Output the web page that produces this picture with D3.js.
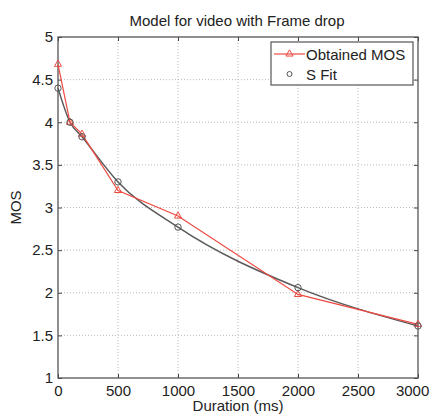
<!DOCTYPE html>
<html>
  <head>
    <title>Model for video with Frame drop</title>
    <style>
      body { margin: 0; background: #fff; }
      text { font-family: "Liberation Sans", Arial, sans-serif; fill: #222; }
      .grid line { stroke: #bbb; stroke-dasharray: 1,2; }
    </style>
  </head>
  <body>
    <div id="chart"></div>
    <script src="https://d3js.org/d3.v7.min.js" type="text/javascript"></script>
<script>

  var durations = [0, 100, 200, 500, 1000, 2000, 3000];
  var obtainedMOS = [4.68, 4.0, 3.86, 3.2, 2.9, 1.98, 1.63];
  var sFit = [4.4, 4.0, 3.83, 3.3, 2.77, 2.06, 1.61];
  var xTicks = [0, 500, 1000, 1500, 2000, 2500, 3000];
  var yTicks = [1, 1.5, 2, 2.5, 3, 3.5, 4, 4.5, 5];

  var margin = {top: 37, right: 12, bottom: 36, left: 58},
    width = 430 - margin.left - margin.right,
    height = 414 - margin.top - margin.bottom;

  var svg = d3.select('#chart')
    .append('svg')
    .attr("width", 430)
    .attr("height", 414);

  var g = svg.append("g")
    .attr("transform", "translate(" + margin.left + "," + margin.top + ")");

  var x = d3.scaleLinear().domain([0, 3000]).range([0, width]);
  var y = d3.scaleLinear().domain([1, 5]).range([height, 0]);

  // grid
  var grid = g.append("g").attr("class", "grid");
  grid.selectAll(".gx").data(xTicks.slice(1, -1)).enter().append("line")
    .attr("x1", function(d){return x(d);}).attr("x2", function(d){return x(d);})
    .attr("y1", 0).attr("y2", height);
  grid.selectAll(".gy").data(yTicks.slice(1, -1)).enter().append("line")
    .attr("y1", function(d){return y(d);}).attr("y2", function(d){return y(d);})
    .attr("x1", 0).attr("x2", width);

  // axes, matlab style with inward ticks
  function styleAxis(sel) {
    sel.select(".domain").remove();
    sel.selectAll(".tick line").attr("stroke", "#444");
    sel.selectAll(".tick text").style("font-size", "15px").attr("fill", "#222");
  }
  var xAxis = g.append("g")
    .attr("transform", "translate(0," + height + ")")
    .call(d3.axisBottom(x).tickValues(xTicks).tickSize(-4).tickPadding(7).tickFormat(d3.format("d")))
    .call(styleAxis);
  // last label sits on the window edge, keep it inside
  xAxis.selectAll(".tick text").filter(function(d){return d === 3000;})
    .attr("text-anchor", "end").attr("dx", "0.72em");
  g.append("g")
    .call(d3.axisLeft(y).tickValues(yTicks).tickSize(-4).tickPadding(5).tickFormat(d3.format("")))
    .call(styleAxis);
  g.append("g")
    .call(d3.axisTop(x).tickValues(xTicks).tickSize(-4).tickFormat(""))
    .call(styleAxis);
  g.append("g")
    .attr("transform", "translate(" + width + ",0)")
    .call(d3.axisRight(y).tickValues(yTicks).tickSize(-4).tickFormat(""))
    .call(styleAxis);

  g.append("rect")
    .attr("width", width).attr("height", height)
    .attr("fill", "none").attr("stroke", "#555").attr("stroke-width", 1.3);

  var lineObt = d3.line()
    .x(function(d, i){return x(durations[i]);})
    .y(function(d){return y(d);});
  var lineFit = d3.line()
    .x(function(d, i){return x(durations[i]);})
    .y(function(d){return y(d);})
    .curve(d3.curveMonotoneX);

  g.append("path").datum(sFit)
    .attr("d", lineFit).attr("fill", "none")
    .attr("stroke", "#5a5a5a").attr("stroke-width", 1.5);

  g.append("path").datum(obtainedMOS)
    .attr("d", lineObt).attr("fill", "none")
    .attr("stroke", "#ee4a42").attr("stroke-width", 1.2);

  var tri = d3.symbol().type(d3.symbolTriangle).size(22);

  g.selectAll(".obt").data(obtainedMOS).enter().append("path")
    .attr("d", tri)
    .attr("transform", function(d, i){return "translate(" + x(durations[i]) + "," + y(d) + ")";})
    .attr("fill", "none").attr("stroke", "#ee4a42").attr("stroke-width", 1);

  g.selectAll(".fit").data(sFit).enter().append("circle")
    .attr("cx", function(d, i){return x(durations[i]);})
    .attr("cy", function(d){return y(d);})
    .attr("r", 3.2)
    .attr("fill", "none").attr("stroke", "#555").attr("stroke-width", 1);

  // legend
  var lg = g.append("g").attr("transform", "translate(" + (271 - margin.left) + "," + (42 - margin.top) + ")");
  lg.append("rect").attr("width", 142).attr("height", 43)
    .attr("fill", "#fff").attr("stroke", "#555").attr("stroke-width", 1.2);
  lg.append("line").attr("x1", 3).attr("x2", 34).attr("y1", 12).attr("y2", 12)
    .attr("stroke", "#ee4a42").attr("stroke-width", 1.2);
  lg.append("path").attr("d", tri).attr("transform", "translate(18.5,12)")
    .attr("fill", "none").attr("stroke", "#ee4a42");
  lg.append("circle").attr("cx", 18.5).attr("cy", 32).attr("r", 2.5)
    .attr("fill", "none").attr("stroke", "#555");
  lg.append("text").attr("x", 35).attr("y", 17.5).style("font-size", "15px").text("Obtained MOS");
  lg.append("text").attr("x", 35).attr("y", 37.5).style("font-size", "15px").text("S Fit");

  // titles
  svg.append("text").attr("x", 237).attr("y", 26)
    .attr("text-anchor", "middle").style("font-size", "15px")
    .text("Model for video with Frame drop");
  svg.append("text").attr("x", 238).attr("y", 411)
    .attr("text-anchor", "middle").style("font-size", "15px")
    .text("Duration (ms)");
  svg.append("text")
    .attr("transform", "translate(21," + (margin.top + height / 2) + ") rotate(-90)")
    .attr("text-anchor", "middle").style("font-size", "15px")
    .text("MOS");

</script>
  </body>
</html>
